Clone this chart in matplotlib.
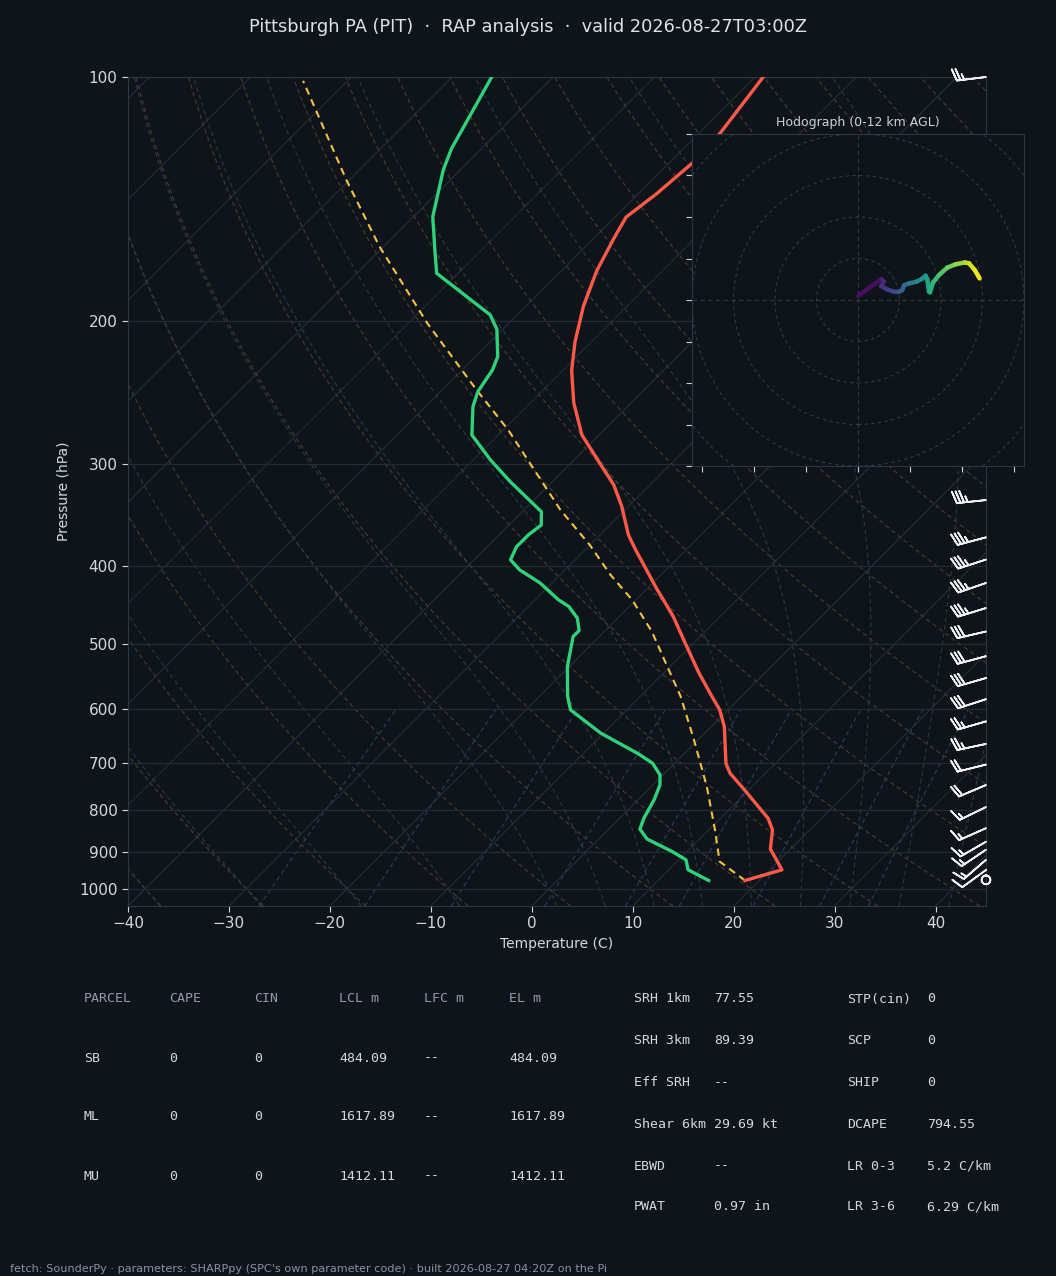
import numpy as np
import matplotlib
matplotlib.use('Agg')
import matplotlib.pyplot as plt
import matplotlib.transforms as mtransforms
from matplotlib.collections import LineCollection
from matplotlib.patches import Circle
from matplotlib.ticker import FixedLocator, FixedFormatter, NullLocator

# ---- sounding ----
temp_p = [976.7, 947.6, 916.6, 893.5, 845.9, 818.4, 792.1, 753.3, 720.7, 700.5, 631.2, 602.1,
          574.4, 540.3, 493.7, 462.5, 440.5, 426.6, 381.6, 366.4, 337.8, 318.0, 299.2, 276.0,
          251.9, 229.9, 212.0, 191.6, 173.2, 158.1, 148.8, 139.3, 127.8, 117.2, 100.0]
temp_c = [18.6, 21.2, 19.4, 18.0, 16.3, 14.7, 12.6, 9.4, 6.5, 5.1, 1.3, -0.8,
          -3.4, -6.7, -11.3, -14.6, -17.3, -19.1, -25.1, -27.2, -30.7, -33.6, -37.1, -41.7,
          -45.7, -49.1, -51.6, -54.3, -56.5, -58.0, -58.9, -58.2, -57.7, -57.9, -59.2]

dwpt_p = [976.7, 947.5, 921.0, 899.6, 868.5, 844.3, 818.3, 776.9, 744.6, 723.7, 700.1, 680.6,
          643.0, 601.9, 579.6, 532.3, 488.9, 480.7, 464.1, 449.0, 440.5, 419.9, 404.7, 393.3,
          379.1, 366.4, 356.4, 343.2, 315.0, 296.2, 276.0, 254.7, 244.1, 229.5, 221.0, 204.5,
          196.3, 174.5, 163.3, 148.6, 130.1, 122.4, 100.0]
dwpt_c = [15.0, 11.9, 10.7, 8.5, 4.8, 3.1, 2.4, 1.6, 0.7, -0.3, -2.2, -4.7,
          -10.3, -15.6, -17.2, -20.2, -22.6, -22.6, -24.0, -26.0, -27.7, -31.2, -34.5, -36.4,
          -37.1, -37.1, -36.8, -38.1, -44.2, -48.3, -52.6, -55.3, -56.3, -57.0, -57.8, -60.6,
          -62.7, -72.1, -74.6, -78.1, -81.7, -83.0, -86.1]

parcel_p = [976.7, 925.5, 845.9, 748.1, 655.3, 579.6, 532.3, 482.0, 440.5, 410.5, 377.2,
            341.4, 272.1, 242.9, 201.0, 161.8, 133.9, 101.1]
parcel_c = [18.6, 14.2, 10.6, 5.5, -0.4, -6.0, -10.3, -15.3, -20.4, -25.0, -30.0,
            -36.4, -49.5, -56.6, -68.1, -80.4, -90.3, -104.4]

# wind barbs: pressure (hPa), speed (kt), direction (deg)
barb_p = [975, 948, 921, 895, 875, 842, 793, 745, 703, 663, 622, 584, 550, 517, 482, 451,
          420, 393, 369, 332, 270, 245, 220, 200, 180, 160, 145, 130, 100]
barb_spd = [2, 12, 14, 15, 15, 15, 17, 20, 22, 25, 27, 28, 30, 30, 32, 33,
            35, 36, 36, 37, 40, 45, 45, 50, 50, 55, 55, 55, 25]
barb_dir = [180, 234, 229, 236, 240, 246, 244, 247, 256, 258, 254, 252, 254, 255, 257, 253,
            251, 252, 255, 264, 257, 257, 258, 258, 260, 262, 262, 260, 263]

# hodograph 0-12 km
hodo_u = [0.0, 11.2, 12.5, 11.2, 14.1, 17.3, 19.7, 21.3, 22.2, 24.6, 28.1, 30.7, 32.6, 33.4,
          34.2, 34.7, 36.1, 39.0, 43.0, 47.0, 51.5, 53.5, 56.3, 58.6]
hodo_v = [1.9, 10.1, 8.8, 6.7, 5.1, 4.0, 3.9, 4.8, 7.1, 8.0, 8.8, 10.1, 11.7, 10.0,
          4.0, 3.7, 8.3, 12.0, 15.6, 17.2, 18.1, 17.7, 14.4, 10.4]
hodo_z = [0.0, 0.9, 1.2, 1.5, 1.9, 2.4, 2.9, 3.4, 3.9, 4.5, 5.2, 5.9, 6.4, 6.7,
          7.1, 7.4, 7.8, 8.4, 9.0, 9.7, 10.4, 10.9, 11.5, 12.0]

# parameter tables
parcel_cols = ['PARCEL', 'CAPE', 'CIN', 'LCL m', 'LFC m', 'EL m']
parcel_rows = [['SB', '0', '0', '484.09', '--', '484.09'],
               ['ML', '0', '0', '1617.89', '--', '1617.89'],
               ['MU', '0', '0', '1412.11', '--', '1412.11']]
kin_labels = ['SRH 1km', 'SRH 3km', 'Eff SRH', 'Shear 6km', 'EBWD', 'PWAT']
kin_values = ['77.55', '89.39', '--', '29.69 kt', '--', '0.97 in']
comp_labels = ['STP(cin)', 'SCP', 'SHIP', 'DCAPE', 'LR 0-3', 'LR 3-6']
comp_values = ['0', '0', '0', '794.55', '5.2 C/km', '6.29 C/km']

title = 'Pittsburgh PA (PIT)  \u00b7  RAP analysis  \u00b7  valid 2026-08-27T03:00Z'
footer = ("fetch: SounderPy \u00b7 parameters: SHARPpy (SPC's own parameter code) \u00b7 "
          "built 2026-08-27 04:20Z on the Pi")

BG = '#0f141b'
FG = '#d3d8de'
SPINE = '#2c3744'
GRID = '#222b35'

FW, FH = 1056, 1276
fig = plt.figure(figsize=(FW / 100, FH / 100), dpi=100, facecolor=BG)

# main skew-T axes
L, R, T, B = 128, 986, 77, 906
ax = fig.add_axes([L / FW, 1 - B / FH, (R - L) / FW, (B - T) / FH])
ax.set_facecolor(BG)
ax.set_yscale('log')
ax.set_ylim(1050, 100)
ax.set_xlim(-40, 45)
ax.set_autoscale_on(False)
ax.yaxis.set_major_locator(FixedLocator(list(range(100, 1001, 100))))
ax.yaxis.set_major_formatter(FixedFormatter([str(v) for v in range(100, 1001, 100)]))
ax.yaxis.set_minor_locator(NullLocator())
ax.set_xticks(np.arange(-40, 41, 10))
ax.tick_params(colors=FG, labelsize=11, length=4, width=0.8)
for s in ax.spines.values():
    s.set_color(SPINE)
ax.yaxis.grid(True, color=GRID, lw=0.9)
ax.set_ylabel('Pressure (hPa)', color=FG, fontsize=10, labelpad=6)
ax.set_xlabel('Temperature (C)', color=FG, fontsize=10)

# 45 degree skew (in pixels), applied in axes coords
W, H = R - L, B - T
skew = ax.transScale + ax.transLimits + mtransforms.Affine2D().skew(np.arctan(H / W), 0) + ax.transAxes

# isotherms
for t in range(-130, 50, 10):
    ax.plot([t, t], [1050, 100], transform=skew, color='#252e39', lw=0.8, zorder=1)

# dry adiabats
p_bg = np.geomspace(1050, 100, 120)
for t0 in range(-40, 210, 10):
    td = (t0 + 273.15) * (p_bg / 1000.0) ** 0.2857 - 273.15
    ax.plot(td, p_bg, transform=skew, color='#4a3d2e', lw=0.8, ls=(0, (4, 3)), zorder=1)

# moist adiabats
RD, LV, CP, EPS = 287.04749, 2.50084e6, 1004.6662, 0.622


def dtdp(p, t):
    es = 6.112 * np.exp(17.67 * (t - 273.15) / (t - 29.65))
    rs = EPS * es / (p - es)
    return (RD * t + LV * rs) / (CP + LV * LV * rs * EPS / (RD * t * t)) / p


def integrate(t_start, plev):
    out = [t_start]
    t = t_start.copy()
    for p0, p1 in zip(plev[:-1], plev[1:]):
        h = p1 - p0
        k1 = dtdp(p0, t)
        k2 = dtdp(p0 + h / 2, t + h / 2 * k1)
        k3 = dtdp(p0 + h / 2, t + h / 2 * k2)
        k4 = dtdp(p1, t + h * k3)
        t = t + h / 6 * (k1 + 2 * k2 + 2 * k3 + k4)
        out.append(t)
    return np.array(out)


moist_t0 = np.concatenate((np.arange(-40, 0, 10), np.arange(0, 46, 5))).astype(float) + 273.15
p_up = np.linspace(1000, 100, 181)
p_dn = np.linspace(1000, 1050, 11)
t_up = integrate(moist_t0, p_up)
t_dn = integrate(moist_t0, p_dn)
p_m = np.concatenate((p_dn[::-1], p_up[1:]))
t_m = np.concatenate((t_dn[::-1], t_up[1:])) - 273.15
for i in range(len(moist_t0)):
    ax.plot(t_m[:, i], p_m, transform=skew, color='#283b44', lw=0.8, ls=(0, (4, 3)), zorder=1)

# mixing ratio lines
p_w = np.linspace(1050, 600, 30)
for w in [0.0004, 0.001, 0.002, 0.004, 0.007, 0.01, 0.016, 0.024, 0.032]:
    e = p_w * w / (EPS + w)
    lg = np.log(e / 6.112)
    tw = 243.5 * lg / (17.67 - lg)
    ax.plot(tw, p_w, transform=skew, color='#27405a', lw=0.8, ls=(0, (4, 3)), zorder=1)

# profiles
ax.plot(parcel_c, parcel_p, transform=skew, color='#f4c242', lw=1.5, ls=(0, (3.5, 2.5)), zorder=3)
ax.plot(temp_c, temp_p, transform=skew, color='#ff5a48', lw=2.4, zorder=4)
ax.plot(dwpt_c, dwpt_p, transform=skew, color='#2fd27a', lw=2.4, zorder=4)

# wind barbs on the right edge
wd = np.deg2rad(barb_dir)
bu = -np.array(barb_spd) * np.sin(wd)
bv = -np.array(barb_spd) * np.cos(wd)
ax.barbs(np.ones(len(barb_p)), barb_p, bu, bv,
         transform=mtransforms.blended_transform_factory(ax.transAxes, ax.transData),
         clip_on=False, length=6.5, color='#eef0f2', lw=1.25, zorder=6)

# hodograph inset
hax = fig.add_axes([692 / FW, 1 - 466 / FH, 332 / FW, 332 / FH])
hax.set_facecolor(BG)
hax.set_xlim(-80, 80)
hax.set_ylim(-80, 80)
hax.set_xticks(np.arange(-75, 76, 25))
hax.set_yticks(np.arange(-80, 81, 20))
hax.tick_params(labelbottom=False, labelleft=False, colors='#c8ced6', length=4, width=0.8)
for s in hax.spines.values():
    s.set_color(SPINE)
for r in [20, 40, 60, 80, 100, 120]:
    hax.add_patch(Circle((0, 0), r, fill=False, ls=(0, (3, 3)), lw=0.8, color='#2f3a47'))
hax.axhline(0, color='#2f3a47', lw=0.8, ls=(0, (4, 3)))
hax.axvline(0, color='#2f3a47', lw=0.8, ls=(0, (4, 3)))
pts = np.column_stack([hodo_u, hodo_v])
segs = np.stack([pts[:-1], pts[1:]], axis=1)
zmid = (np.array(hodo_z[:-1]) + np.array(hodo_z[1:])) / 2
lc = LineCollection(segs, cmap='viridis', norm=plt.Normalize(0, 12), lw=3.2, capstyle='round')
lc.set_array(zmid)
hax.add_collection(lc)
hax.set_title('Hodograph (0-12 km AGL)', color='#c9d0d8', fontsize=9, pad=6)

# title and footer
fig.text(0.5, 1 - 27 / FH, title, ha='center', va='center', color='#dde2e8', fontsize=12.8)
fig.text(10 / FW, 1 - 1269 / FH, footer, ha='left', va='center', color='#8593a4', fontsize=8.1)

# parameter tables
mono = 'DejaVu Sans Mono'
HDR = '#8e9bad'
col_x = [84, 169, 254, 339, 424, 509]
row_y = [999, 1058, 1117, 1176]
for cx, name in zip(col_x, parcel_cols):
    fig.text(cx / FW, 1 - row_y[0] / FH, name, family=mono, fontsize=9.5, color=HDR, va='center')
for ry, row in zip(row_y[1:], parcel_rows):
    for cx, val in zip(col_x, row):
        fig.text(cx / FW, 1 - ry / FH, val, family=mono, fontsize=9.5, color=FG, va='center')

kin_y = [999, 1041, 1083, 1124, 1166, 1207]
for ry, a, b, c, d in zip(kin_y, kin_labels, kin_values, comp_labels, comp_values):
    for cx, txt in zip([634, 714, 847, 927], [a, b, c, d]):
        fig.text(cx / FW, 1 - ry / FH, txt, family=mono, fontsize=9.5, color=FG, va='center')

fig.savefig('out.png', dpi=100, facecolor=BG)
